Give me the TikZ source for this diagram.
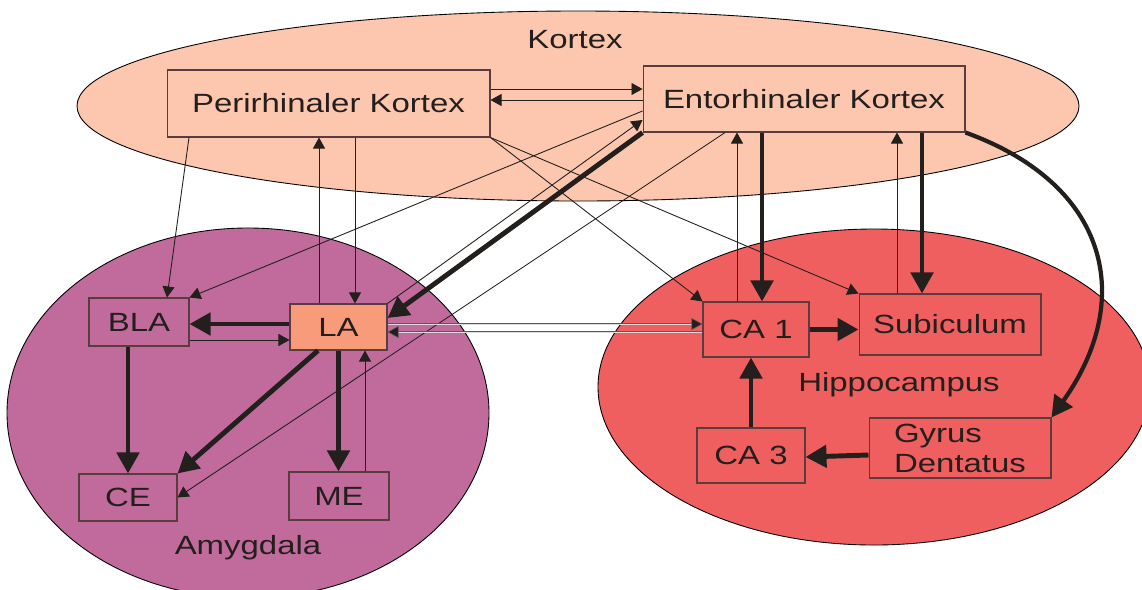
\documentclass[tikz,border=0pt]{standalone}
\usepackage{fontspec}
\setmainfont{Liberation Sans}
\usetikzlibrary{arrows.meta}
\definecolor{kortexfill}{HTML}{FDC6AE}
\definecolor{amygfill}{HTML}{C16B9D}
\definecolor{hippofill}{HTML}{F05F60}
\definecolor{lafill}{HTML}{F89B7B}
\definecolor{boxline}{HTML}{5A3C3E}
\definecolor{ink}{HTML}{231F1C}
\newcommand{\wide}[1]{\scalebox{1.25}[1]{#1}}

\begin{document}
\begin{tikzpicture}[x=0.02cm,y=-0.02cm,
  region/.style={draw=black, line width=0.5pt},
  lbl/.style={font=\fontsize{15}{17}\selectfont, text=ink, inner sep=0pt},
  box/.style={lbl, draw=boxline, line width=0.6pt},
  thinarr/.style={draw=ink, line width=0.5pt, -{Triangle[length=0.22cm,width=0.24cm]}},
  thickarr/.style={draw=ink, line width=2.8pt, -{Triangle[length=0.42cm,width=0.44cm]}},
  dblarr/.style={draw=black!65, line width=0.35pt, double=black!15, double distance=0.45pt, -{Triangle[length=0.22cm,width=0.24cm,fill=ink]}}]
\useasboundingbox (0,0) rectangle (1142,589);
% regions
\draw [region, fill=kortexfill] (578,106) ellipse [x radius=501, y radius=95];
\draw [region, fill=amygfill] (248,413) ellipse [x radius=241, y radius=185];
\draw [region, fill=hippofill] (874,387) ellipse [x radius=276, y radius=158];
\node [lbl] (kortexlbl) at (575,40) {\wide{Kortex}};
\node [lbl] (amyglbl) at (248,548) {\wide{Amygdala}};
\node [lbl] (hippolbl) at (899,385) {\wide{Hippocampus}};
% boxes
\node [box, minimum width=6.46cm, minimum height=1.34cm] (PK) at (328.5,103.5) {\wide{Perirhinaler Kortex}};
\node [box, minimum width=6.44cm, minimum height=1.32cm] (EK) at (804,99) {\wide{Entorhinaler Kortex}};
\node [box, minimum width=2.0cm, minimum height=0.96cm] (BLA) at (139,322) {\wide{BLA}};
\node [box, fill=lafill, minimum width=1.94cm, minimum height=0.92cm] (LA) at (338.5,327) {\wide{LA}};
\node [box, minimum width=1.96cm, minimum height=0.94cm] (CE) at (128,497.5) {\wide{CE}};
\node [box, minimum width=2.0cm, minimum height=0.96cm] (ME) at (339,496) {\wide{ME}};
\node [box, minimum width=2.12cm, minimum height=1.1cm] (CA1) at (756,329.5) {\wide{CA 1}};
\node [box, minimum width=3.64cm, minimum height=1.22cm] (Sub) at (950,324.5) {\wide{Subiculum}};
\node [box, minimum width=2.16cm, minimum height=1.1cm] (CA3) at (751,455.5) {\wide{CA 3}};
\node [box, align=left, minimum width=3.64cm, minimum height=1.2cm] (GD) at (960,448) {\wide{Gyrus}\\\wide{Dentatus}};
% cortex connections
\draw [thinarr] (PK.east |- 0,89) -- (EK.west |- 0,89);
\draw [thinarr] (EK.west |- 0,100) -- (PK.east |- 0,100);
\draw [thinarr] (PK.south -| 189,0) -- (BLA.north -| 167,0);
\draw [thinarr] (LA.north -| 319,0) -- (PK.south -| 319,0);
\draw [thinarr] (PK.south -| 355,0) -- (LA.north -| 355,0);
\draw [thinarr] (PK.south east) -- (CA1.north west);
\draw [thinarr] (PK.south east) -- (Sub.north west);
\draw [thinarr] (EK.west |- 0,111) -- (BLA.north east);
\draw [thinarr] (LA.north east) -- (EK.west |- 0,120);
\draw [thickarr] (EK.south west) -- (LA.east |- 0,318);
\draw [thinarr] (EK.south -| 725,0) -- (CE.east);
\draw [thinarr] (CA1.north -| 737,0) -- (EK.south -| 737,0);
\draw [thickarr] (EK.south -| 762,0) -- (CA1.north -| 762,0);
\draw [thinarr] (Sub.north -| 897,0) -- (EK.south -| 897,0);
\draw [thickarr] (EK.south -| 922,0) -- (Sub.north -| 922,0);
\draw [thickarr, line width=2.4pt] (EK.south east) .. controls (1110,185) and (1135,300) .. (GD.north east);
% hippocampus
\draw [thickarr] (CA1.east) -- (Sub.west |- CA1.east);
\draw [thickarr] (CA3.north) -- (CA1.south -| CA3.north);
\draw [thickarr] (GD.west |- 0,455) -- (CA3.east |- 0,457);
% amygdala
\draw [thickarr] (LA.west |- 0,324) -- (BLA.east |- 0,324);
\draw [thinarr] (BLA.east |- 0,340) -- (LA.west |- 0,340);
\draw [thickarr] (BLA.south -| 128,0) -- (CE.north -| 128,0);
\draw [thickarr] (LA.south -| 318,0) -- (CE.north east);
\draw [thickarr] (LA.south) -- (ME.north -| LA.south);
\draw [thinarr] (ME.north -| 365,0) -- (LA.south -| 365,0);
% amygdala <-> hippocampus
\draw [dblarr] (LA.east |- 0,324) -- (CA1.west |- 0,324);
\draw [dblarr] (CA1.west |- 0,332) -- (LA.east |- 0,332);
\end{tikzpicture}
\end{document}
